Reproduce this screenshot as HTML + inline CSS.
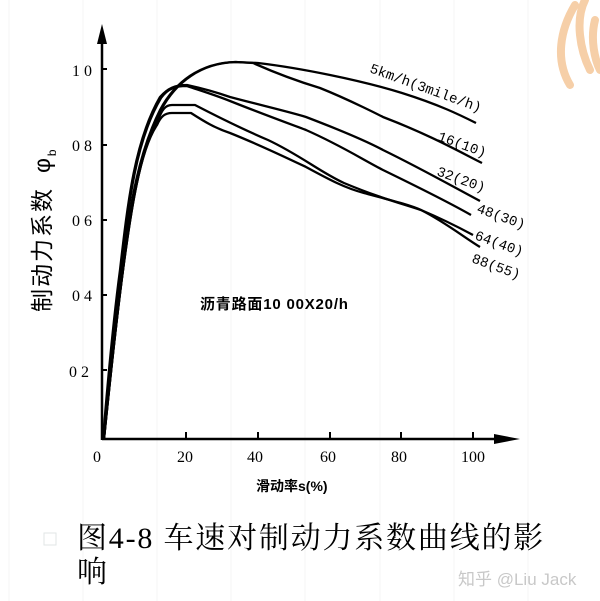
<!DOCTYPE html>
<html><head><meta charset="utf-8"><style>
html,body{margin:0;padding:0;background:#fff;}
body{width:600px;height:601px;overflow:hidden;position:relative;}
</style></head><body>
<svg width="600" height="601" viewBox="0 0 600 601" xmlns="http://www.w3.org/2000/svg" style="position:absolute;left:0;top:0">
<g stroke="#f4f4f4" stroke-width="1">
<line x1="9" y1="0" x2="9" y2="601"/><line x1="83" y1="0" x2="83" y2="601"/><line x1="157" y1="0" x2="157" y2="601"/><line x1="231" y1="0" x2="231" y2="601"/><line x1="305" y1="0" x2="305" y2="601"/><line x1="380" y1="0" x2="380" y2="601"/><line x1="454" y1="0" x2="454" y2="601"/><line x1="528" y1="0" x2="528" y2="601"/>
</g>
<path d="M575 5 C560 30 555 60 570 85 M585 0 C575 20 580 50 590 70 M595 20 C590 40 595 60 600 70" stroke="#f6cfa8" stroke-width="8" fill="none" stroke-linecap="round"/>
<g stroke="#000" stroke-width="2.5" fill="none">
<line x1="102" y1="30" x2="102" y2="440"/>
<line x1="102" y1="439" x2="510" y2="439"/>
</g>
<polygon points="102,24 97,44 107,44" fill="#000"/>
<polygon points="520,439 494,434 494,444" fill="#000"/>
<g stroke="#000" stroke-width="2">
<line x1="102" y1="69" x2="107" y2="69"/><line x1="102" y1="145" x2="107" y2="145"/><line x1="102" y1="220" x2="107" y2="220"/><line x1="102" y1="295" x2="107" y2="295"/><line x1="102" y1="370" x2="107" y2="370"/>
<line x1="186" y1="439" x2="186" y2="432"/><line x1="258" y1="439" x2="258" y2="432"/><line x1="330" y1="439" x2="330" y2="432"/><line x1="401" y1="439" x2="401" y2="432"/><line x1="473" y1="439" x2="473" y2="432"/>
</g>
<g font-family="Liberation Serif, serif" font-size="16" fill="#000">
<text x="72" y="76">1 0</text><text x="72" y="151">0 8</text><text x="72" y="226">0 6</text><text x="72" y="301">0 4</text><text x="69" y="377">0 2</text>
<text x="93" y="462">0</text><text x="177" y="462">20</text><text x="247" y="462">40</text><text x="320" y="462">60</text><text x="391" y="462">80</text><text x="461" y="462">100</text>
</g>
<g stroke="#000" stroke-width="2.3" fill="none" stroke-linejoin="round">
<path d="M103 439 C108 390 114 330 122 270 C130 200 140 150 160 110 C175 82 200 63 235 62 L258 63 C300 68 360 80 402 93 C440 105 460 115 476 123"/>
<path d="M104 439 C109 390 115 330 123 270 C131 200 141 150 161 110 C176 82 201 63 236 62 L253 63 C280 75 300 82 320 88 C350 100 383 117 383 117 C430 135 460 152 482 163"/>
<path d="M103 439 C107 390 112 330 120 270 C128 200 135 140 160 97 C168 88 175 85 187 85 C210 90 230 97 230 97 C260 105 290 112 306 117 C340 130 370 143 383 150 C420 168 450 185 480 201"/>
<path d="M104 439 C108 390 113 330 121 270 C129 200 136 140 161 98 C168 88 176 86 187 86 C205 92 215 95 230 101 C260 113 290 124 306 130 C340 145 360 158 383 170 C420 188 450 203 471 215"/>
<path d="M104 439 C109 390 115 330 123 270 C131 210 140 150 158 120 C162 110 165 105 172 105 L195 105 C220 118 240 128 268 140 C300 155 320 172 344 183 C380 198 400 203 421 210 C440 218 460 228 473 235"/>
<path d="M104 439 C109 390 115 330 123 270 C131 210 140 150 157 125 C161 116 165 113 172 113 L191 113 C205 122 215 128 230 133 C260 145 285 157 306 167 C330 180 345 188 364 193 C390 200 410 205 421 210 C445 222 465 238 480 247"/>
</g>
<g font-family="Liberation Mono, monospace" font-size="14" fill="#000">
<text transform="translate(369,72) rotate(20)">5km/h(3mile/h)</text>
<text transform="translate(437,140) rotate(20)">16(10)</text>
<text transform="translate(436,175) rotate(20)">32(20)</text>
<text transform="translate(476,212) rotate(20)">48(30)</text>
<text transform="translate(474,239) rotate(20)">64(40)</text>
<text transform="translate(471,262) rotate(20)">88(55)</text>
</g>
<text x="200" y="309" font-family="Liberation Sans, Noto Sans CJK SC, sans-serif" font-size="15" font-weight="bold" letter-spacing="0.8" fill="#000">沥青路面10 00X20/h</text>
<text x="256" y="491" font-family="Liberation Sans, Noto Sans CJK SC, sans-serif" font-size="14" font-weight="bold" fill="#000">滑动率s(%)</text>
<text transform="translate(50,312) rotate(-90)" font-family="Liberation Sans, Noto Sans CJK SC, sans-serif" font-size="23" letter-spacing="2" fill="#000">制动力系数<tspan dx="14">φ</tspan><tspan font-size="12" dy="6">b</tspan></text>
<rect x="44" y="533" width="12" height="12" fill="none" stroke="#e0e6e6" stroke-width="1"/>
<g font-family="Liberation Serif, Noto Serif CJK SC, serif" font-size="30" fill="#000">
<text x="77" y="548" letter-spacing="1.8">图4-8 车速对制动力系数曲线的影</text>
<text x="77" y="582">响</text>
</g>
<text x="458" y="585" font-family="Liberation Sans, Noto Sans CJK SC, sans-serif" font-size="17" fill="#c8c8c8">知乎 @Liu Jack</text>
</svg>
</body></html>
